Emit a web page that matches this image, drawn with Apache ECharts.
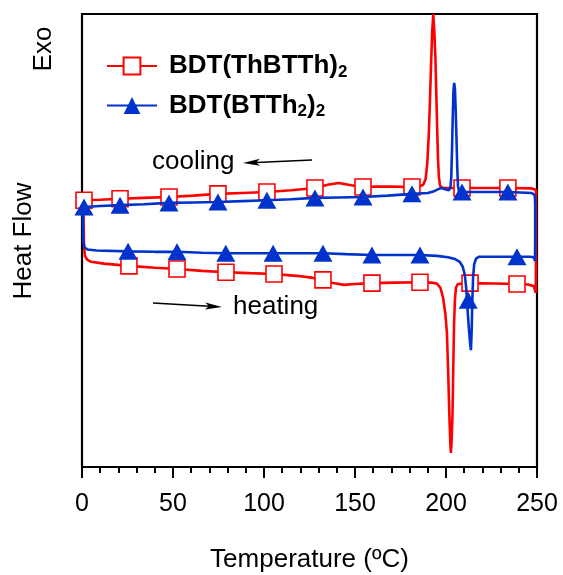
<!DOCTYPE html>
<html><head><meta charset="utf-8">
<script src="https://cdn.jsdelivr.net/npm/echarts@6/dist/echarts.min.js"></script>
<style>html,body{margin:0;padding:0;background:#fff}#c{width:563px;height:575px}</style>
</head><body><div id="c"></div>
<script>
// ---- data (temperature in ºC, heat flow in arbitrary units) ----
const seriesNames = ['BDT(ThBTTh)2', 'BDT(BTTh2)2'];
const xTickValues = [0, 50, 100, 150, 200, 250];

const redHeating = [[0.8,58.9],[0.9,54],[1.1,49],[1.6,46.6],[2.8,45.8],[5,45.3],[12,44.9],[25.8,44.4],[40,44.0],[52.2,43.7],[66,43.3],[79.1,43.0],[92,42.8],[105.5,42.6],[118,42.2],[126,41.8],[132.4,41.3],[138,40.6],[144,40.2],[150,40.4],[159.3,40.6],[172,40.7],[185.7,40.8],[192,40.7],[195,40.5],[197,39.5],[198.4,37.3],[199.6,34],[200.5,29.6],[201.2,21],[201.8,12],[202.4,5],[202.7,3.1],[203.1,6],[203.6,12],[204.0,22],[204.4,31],[204.9,37],[205.5,39.6],[206.5,40.4],[213.2,40.6],[226,40.5],[239,40.4],[245,40.3],[248.3,39.9],[249.0,38.9],[249.3,38.4],[249.4,45],[249.4,61.2]];
const redCooling = [[249.2,61.4],[247,61.5],[234,61.6],[221,61.6],[208.8,61.6],[200,61.6],[197.5,61.7],[196.7,62.2],[196.1,64],[195.6,68],[195.2,74],[194.7,82],[194.2,90],[193.6,96],[193.0,100],[192.4,96],[191.8,89],[191.2,81],[190.5,73],[189.7,67],[188.8,63.6],[187.5,62.3],[185,61.9],[181.3,61.8],[170,61.9],[162,61.9],[154.4,61.8],[148,62.2],[141,62.7],[135,62.3],[128,61.6],[115,61.1],[101.6,60.7],[88,60.5],[74.7,60.3],[61,59.9],[47.8,59.6],[34,59.4],[20.9,59.2],[10,59.0],[1.1,58.9],[0.8,58.9]];
const blueHeating = [[0.4,57.4],[0.5,54],[0.7,50],[1.3,48.5],[3,48.0],[8,47.8],[25.3,47.6],[40,47.5],[52.2,47.5],[66,47.3],[79,47.2],[105,47.2],[132.4,47.2],[145,47.0],[159.3,46.8],[185.7,46.8],[195,46.6],[201,46.3],[205,45.9],[207.5,45.3],[209.2,44.2],[210.3,42.5],[211.1,39.5],[211.8,35],[212.5,31],[213.2,27.5],[213.7,25.8],[214.1,30],[214.5,37],[214.9,42],[215.5,44.8],[216.5,46.0],[218,46.4],[239,46.4],[246,46.4],[248.3,46.3],[248.9,45.5],[249.0,50],[249.0,58],[248.8,60.0],[248.2,60.4]];
const blueCooling = [[247,60.5],[234,60.7],[221,60.7],[208.8,60.7],[207.2,60.8],[206.6,62],[206.2,66],[205.8,72],[205.3,79],[204.9,83.5],[204.5,84.8],[204.1,83],[203.7,77],[203.3,70],[202.9,64],[202.4,61.6],[201.5,61.1],[199.5,61.3],[197.5,61.6],[195.5,61.3],[193,60.8],[190,60.5],[181.3,60.3],[168,59.9],[154.4,59.6],[141,59.5],[128,59.4],[115,59.1],[101.6,58.9],[88,58.7],[74.7,58.5],[61,58.4],[47.8,58.3],[34,58.0],[20.9,57.8],[10,57.6],[1.1,57.4],[0.4,57.4]];

const redCoolingMarkers = [[1.1,58.9],[20.9,59.2],[47.8,59.6],[74.7,60.3],[101.6,60.7],[128,61.6],[154.4,61.8],[181.3,61.8],[208.8,61.6],[234,61.6]];
const redHeatingMarkers = [[25.8,44.4],[52.2,43.7],[79.1,43.0],[105.5,42.6],[132.4,41.3],[159.3,40.6],[185.7,40.8],[213.2,40.6],[239,40.4]];
const blueCoolingMarkers = [[1.1,57.4],[20.9,57.8],[47.8,58.3],[74.7,58.5],[101.6,58.9],[128,59.4],[154.4,59.6],[181.3,60.3],[208.8,60.7],[234,60.7]];
const blueHeatingMarkers = [[25.3,47.6],[52.2,47.5],[79,47.2],[105,47.2],[132.4,47.2],[159.3,46.8],[185.7,46.8],[212.2,36.8],[239,46.4]];

// ---- styles ----
const FONT = "'Liberation Sans', Arial, Helvetica, sans-serif";
const RED = '#ff0000';
const BLUE = '#0033cc';

const chart = echarts.init(document.getElementById('c'), null, {renderer: 'canvas'});

function arrow(x1, y1, x2, y2) {
  const len = 17, hw = 3.6;
  const dx = x2 - x1, dy = y2 - y1, d = Math.hypot(dx, dy);
  const ux = dx / d, uy = dy / d;
  const bx = x2 - ux * len, by = y2 - uy * len;
  return [
    {type: 'line', shape: {x1: x1, y1: y1, x2: bx + ux * 4, y2: by + uy * 4}, style: {stroke: '#000', lineWidth: 1.6}},
    {type: 'polygon', shape: {points: [[x2, y2], [bx - uy * hw, by + ux * hw], [bx + ux * 4, by + uy * 4], [bx + uy * hw, by - ux * hw]]}, style: {fill: '#000'}}
  ];
}

const option = {
  backgroundColor: '#fff',
  animation: false,
  grid: {left: 82, right: 26, top: 14, bottom: 108, containLabel: false, outerBoundsMode: 'none',
    show: true, borderColor: '#000', borderWidth: 2.2, backgroundColor: 'transparent'},
  xAxis: {
    type: 'value', min: 0, max: 250, interval: 50,
    axisLine: {show: true, lineStyle: {color: '#000', width: 2.2}},
    axisTick: {show: true, inside: false, length: 11, lineStyle: {color: '#000', width: 2}},
    minorTick: {show: true, splitNumber: 5, length: 6, lineStyle: {color: '#000', width: 2}},
    axisLabel: {color: '#000', fontSize: 25, fontFamily: FONT, margin: 25,
      formatter: v => xTickValues.indexOf(v) >= 0 ? String(v) : ''},
    splitLine: {show: false},
    name: 'Temperature (ºC)', nameLocation: 'middle', nameGap: 80,
    nameTextStyle: {color: '#000', fontSize: 26, fontFamily: FONT}
  },
  yAxis: {
    type: 'value', min: 0, max: 100,
    axisLine: {show: false}, axisTick: {show: false}, axisLabel: {show: false}, splitLine: {show: false}
  },
  legend: {
    data: seriesNames, orient: 'vertical', left: 106, top: 53, padding: 0,
    itemWidth: 50, itemHeight: 21, itemGap: 12, selectedMode: false,
    formatter: n => n === seriesNames[0] ? 'BDT(ThBTTh){s|2}' : 'BDT(BTTh{s|2}){s|2}',
    textStyle: {color: '#000', fontSize: 26, fontWeight: 'bold', fontFamily: FONT, padding: [0, 0, 0, 7],
      rich: {s: {fontSize: 17, fontWeight: 'bold', fontFamily: FONT, color: '#000', verticalAlign: 'bottom', padding: [12, 0, 0, 0]}}}
  },
  series: [
    {name: seriesNames[0], type: 'line', data: redHeating.concat(redCooling), z: 2,
      symbol: 'rect', symbolSize: 16, showSymbol: false,
      lineStyle: {color: RED, width: 2.6}, itemStyle: {color: '#fff', borderColor: RED, borderWidth: 1.6}},
    {name: seriesNames[0] + ' markers', type: 'scatter', data: redCoolingMarkers.concat(redHeatingMarkers), z: 3,
      symbol: 'rect', symbolSize: 16, itemStyle: {color: '#fff', borderColor: RED, borderWidth: 1.6, opacity: 1}},
    {name: seriesNames[1], type: 'line', data: blueHeating.concat(blueCooling), z: 4,
      symbol: 'triangle', symbolSize: 18, showSymbol: false,
      lineStyle: {color: BLUE, width: 2.6}, itemStyle: {color: BLUE}},
    {name: seriesNames[1] + ' markers', type: 'scatter', data: blueCoolingMarkers.concat(blueHeatingMarkers), z: 5,
      symbol: 'triangle', symbolSize: [19, 17], itemStyle: {color: BLUE, opacity: 1}}
  ],
  graphic: [
    {type: 'text', x: 43.5, y: 49, rotation: Math.PI / 2,
      style: {text: 'Exo', font: '26px ' + FONT, fill: '#000', align: 'center', verticalAlign: 'middle'}},
    {type: 'text', x: 23.5, y: 241, rotation: Math.PI / 2,
      style: {text: 'Heat Flow', font: '26px ' + FONT, fill: '#000', align: 'center', verticalAlign: 'middle'}},
    {type: 'text', x: 152, y: 161.5,
      style: {text: 'cooling', font: '26px ' + FONT, fill: '#000', align: 'left', verticalAlign: 'middle'}},
    {type: 'text', x: 233, y: 307,
      style: {text: 'heating', font: '26px ' + FONT, fill: '#000', align: 'left', verticalAlign: 'middle'}}
  ].concat(arrow(312, 160, 243, 163)).concat(arrow(153, 303, 222, 307))
};
chart.setOption(option);
</script>
</body></html>
